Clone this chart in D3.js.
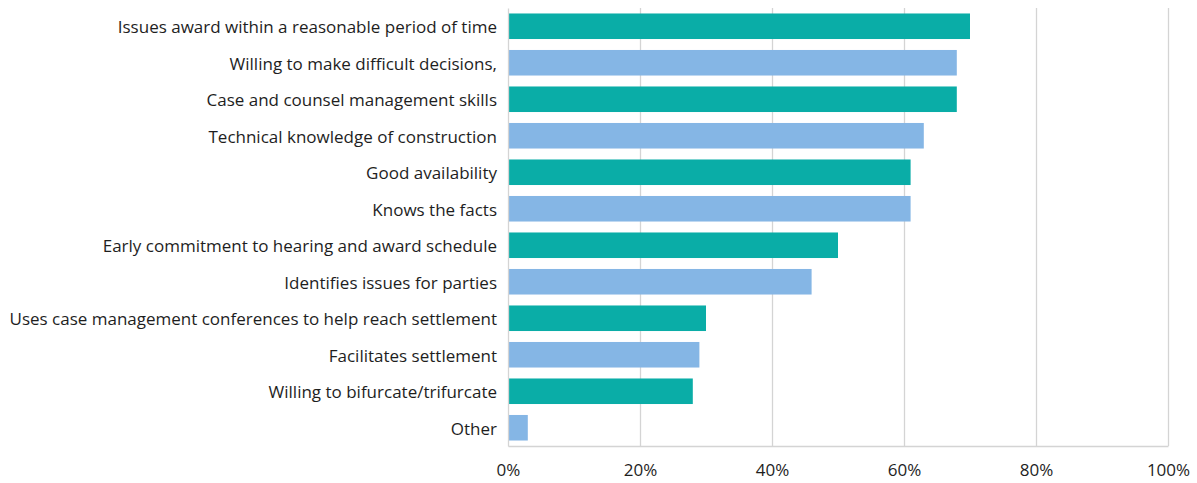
<!DOCTYPE html>
<html>
<head>
<meta charset="utf-8">
<script src="https://cdn.jsdelivr.net/npm/d3@7"></script>
<style>
  body { margin: 0; background: #fff; }
  svg { display: block; font-family: "Open Sans", "Noto Sans", sans-serif; }
</style>
</head>
<body>
<svg id="chart" width="1197" height="483"></svg>
<script>
// Horizontal bar chart, alternating bar colours, percent axis at the bottom.

var categories = [
    'Issues award within a reasonable period of time',
    'Willing to make difficult decisions,',
    'Case and counsel management skills',
    'Technical knowledge of construction',
    'Good availability',
    'Knows the facts',
    'Early commitment to hearing and award schedule',
    'Identifies issues for parties',
    'Uses case management conferences to help reach settlement',
    'Facilitates settlement',
    'Willing to bifurcate/trifurcate',
    'Other'
];
var values = [70, 68, 68, 63, 61, 61, 50, 46, 30, 29, 28, 3];
var tickValues = [0, 20, 40, 60, 80, 100];
var colors = ['#0aada7', '#85b6e5'];

var margin = { top: 8, right: 29, bottom: 37, left: 508 };
var width = 1197, height = 483;

var svg = d3.select('#chart');

var x = d3.scaleLinear()
    .domain([0, 100])
    .range([margin.left, width - margin.right]);

var y = d3.scaleBand()
    .domain(categories)
    .range([margin.top, height - margin.bottom])
    .paddingInner(0.3)
    .paddingOuter(0.15);

// vertical grid lines
svg.append('g')
    .selectAll('line')
    .data(tickValues.slice(1))
    .join('line')
    .attr('x1', function(d) { return x(d) + 0.5; })
    .attr('x2', function(d) { return x(d) + 0.5; })
    .attr('y1', margin.top)
    .attr('y2', height - margin.bottom)
    .attr('stroke', '#d4d4d4')
    .attr('stroke-width', 1.3);

// bars
svg.append('g')
    .selectAll('rect')
    .data(values)
    .join('rect')
    .attr('x', x(0))
    .attr('y', function(d, i) { return y(categories[i]); })
    .attr('width', function(d) { return x(d) - x(0); })
    .attr('height', y.bandwidth())
    .attr('fill', function(d, i) { return colors[i % 2]; });

// category axis on the left
var yAxis = d3.axisLeft(y).tickSize(0).tickPadding(11);
svg.append('g')
    .attr('transform', 'translate(' + x(0) + ',0)')
    .call(yAxis)
    .call(function(g) {
        g.select('.domain')
            .attr('stroke', '#d4d4d4')
            .attr('stroke-width', 1.3);
        g.selectAll('text')
            .attr('font-size', 17)
            .attr('dy', '0.42em')
            .attr('fill', '#1e1e1e')
            .attr('font-family', '"Open Sans", sans-serif');
    });

// percent axis at the bottom
var xAxis = d3.axisBottom(x)
    .tickValues(tickValues)
    .tickSize(0)
    .tickPadding(18)
    .tickFormat(function(d) { return d + '%'; });
svg.append('g')
    .attr('transform', 'translate(0,' + (height - margin.bottom) + ')')
    .call(xAxis)
    .call(function(g) {
        g.select('.domain')
            .attr('stroke', '#d4d4d4')
            .attr('stroke-width', 1.3);
        g.selectAll('text')
            .attr('font-size', 17)
            .attr('fill', '#1e1e1e')
            .attr('font-family', '"Open Sans", sans-serif');
    });
</script>
</body>
</html>
